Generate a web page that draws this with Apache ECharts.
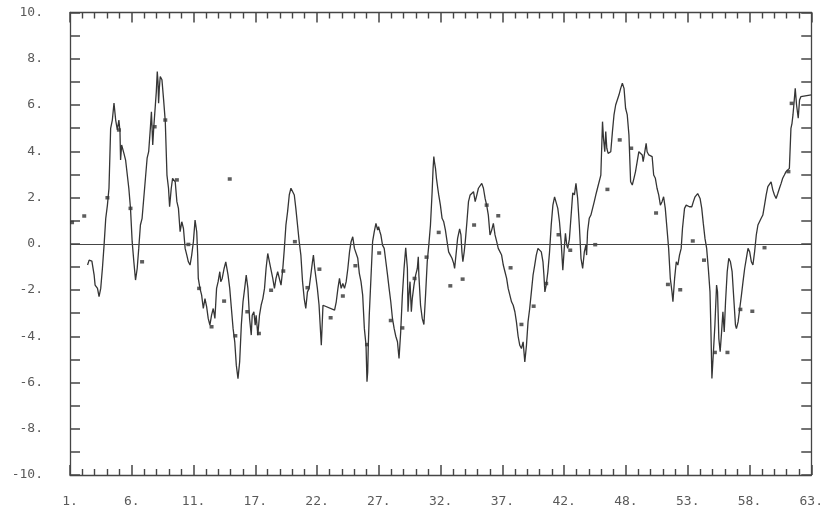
<!DOCTYPE html>
<html>
<head>
<meta charset="utf-8">
<script src="https://cdn.jsdelivr.net/npm/echarts@6/dist/echarts.min.js"></script>
<style>
  html, body { margin: 0; padding: 0; background: #ffffff; }
  #chart { width: 826px; height: 510px; }
</style>
</head>
<body>
<div id="chart"></div>
<script>
// Continuous trace: [period, value]
const curve = [
  [2.47,-0.92],[2.60,-0.71],[2.83,-0.75],[3.02,-1.36],[3.10,-1.79],[3.30,-1.93],[3.43,-2.29],[3.57,-1.93],
  [3.71,-1.07],[3.85,-0.06],[3.99,1.10],[4.13,1.67],[4.26,2.40],[4.40,4.99],[4.54,5.35],[4.68,6.08],
  [4.82,5.35],[4.96,4.92],[5.09,5.35],[5.18,4.85],[5.23,3.62],[5.32,4.27],[5.51,3.91],[5.65,3.62],
  [5.79,3.55],[5.92,2.40],[6.06,1.53],[6.20,0.09],[6.34,-0.78],[6.48,-1.57],[6.62,-1.07],[6.75,-0.20],
  [6.89,0.81],[7.03,1.10],[7.17,1.10],[7.31,2.83],[7.45,3.70],[7.58,3.98],[7.72,4.99],[7.81,5.71],
  [7.92,4.27],[8.00,4.99],[8.14,6.00],[8.22,6.58],[8.30,7.45],[8.36,7.01],[8.41,6.08],[8.47,6.72],
  [8.55,7.23],[8.69,7.09],[8.83,6.22],[8.97,5.28],[9.11,2.97],[9.24,2.40],[9.33,1.60],[9.47,2.40],
  [9.58,2.83],[9.80,2.68],[9.94,1.82],[10.07,1.53],[10.21,0.52],[10.35,0.95],[10.49,0.66],[10.63,-0.20],
  [10.77,-0.49],[10.90,-0.78],[11.04,-0.92],[11.18,-0.49],[11.32,0.09],[11.46,1.02],[11.60,0.52],[11.68,-0.49],
  [11.73,-1.50],[11.87,-1.93],[12.01,-2.22],[12.15,-2.80],[12.29,-2.37],[12.43,-2.73],[12.56,-3.23],[12.70,-3.52],
  [12.84,-3.09],[12.98,-2.80],[13.12,-3.23],[13.26,-1.93],[13.39,-1.64],[13.53,-1.21],[13.61,-1.64],[13.73,-1.50],
  [13.89,-1.07],[14.03,-0.78],[14.22,-1.36],[14.36,-1.93],[14.50,-2.80],[14.64,-3.66],[14.78,-4.24],[14.91,-5.25],
  [15.05,-5.83],[15.19,-5.11],[15.33,-3.52],[15.47,-2.51],[15.61,-1.93],[15.74,-1.36],[15.88,-1.93],[16.02,-3.23],
  [16.16,-3.95],[16.24,-3.09],[16.38,-2.94],[16.49,-3.52],[16.57,-3.09],[16.71,-3.95],[16.85,-3.09],[16.99,-2.65],
  [17.13,-2.37],[17.27,-1.93],[17.40,-1.07],[17.54,-0.42],[17.68,-0.78],[17.82,-1.14],[17.96,-1.50],[18.10,-1.93],
  [18.23,-1.50],[18.37,-1.21],[18.51,-1.28],[18.65,-1.79],[18.79,-1.14],[18.93,-0.20],[19.06,0.81],[19.20,1.39],
  [19.34,2.11],[19.48,2.40],[19.62,2.32],[19.76,2.11],[19.89,1.53],[20.03,0.81],[20.17,0.09],[20.31,-0.49],
  [20.45,-1.64],[20.59,-2.37],[20.72,-2.80],[20.86,-2.08],[21.00,-1.93],[21.14,-1.36],[21.28,-0.78],[21.36,-0.49],
  [21.47,-1.07],[21.69,-1.93],[21.83,-2.65],[22.02,-4.39],[22.16,-2.66],[22.30,-2.73],[23.13,-2.87],[23.27,-2.51],
  [23.41,-1.93],[23.54,-1.50],[23.68,-1.93],[23.82,-1.72],[23.96,-1.93],[24.10,-1.64],[24.24,-1.07],[24.38,-0.35],
  [24.51,0.09],[24.65,0.30],[24.79,-0.20],[24.93,-0.27],[25.07,-0.63],[25.20,-1.28],[25.34,-1.64],[25.48,-2.22],
  [25.62,-3.66],[25.76,-4.39],[25.84,-5.97],[25.90,-5.54],[25.95,-4.39],[26.03,-3.09],[26.17,-1.50],[26.31,0.09],
  [26.45,0.52],[26.59,0.88],[26.73,0.59],[26.81,0.74],[26.92,0.52],[27.00,0.38],[27.14,-0.06],[27.28,-0.20],
  [27.42,-0.78],[27.56,-1.36],[27.69,-1.93],[27.83,-2.51],[27.97,-3.23],[28.11,-3.66],[28.25,-4.00],[28.39,-4.24],
  [28.52,-4.96],[28.66,-3.81],[28.80,-2.22],[28.94,-1.07],[29.08,-0.17],[29.22,-1.07],[29.27,-2.94],[29.35,-2.22],
  [29.44,-1.64],[29.55,-2.94],[29.63,-2.37],[29.77,-1.79],[29.91,-1.36],[30.05,-1.07],[30.13,-0.56],[30.18,-1.36],
  [30.32,-2.66],[30.46,-3.23],[30.60,-3.49],[30.74,-2.22],[30.88,-0.78],[31.01,-0.06],[31.15,0.81],[31.29,2.25],
  [31.37,3.26],[31.43,3.77],[31.48,3.55],[31.57,3.26],[31.65,2.83],[31.76,2.40],[31.84,2.11],[31.98,1.67],
  [32.12,1.10],[32.26,0.95],[32.40,0.59],[32.54,0.09],[32.67,-0.35],[32.81,-0.49],[32.95,-0.63],[33.09,-0.85],
  [33.17,-1.07],[33.31,-0.35],[33.42,0.23],[33.59,0.64],[33.70,0.38],[33.78,-0.35],[33.86,-0.78],[33.97,-0.35],
  [34.06,0.09],[34.20,0.95],[34.33,1.82],[34.47,2.11],[34.61,2.11],[34.75,2.25],[34.89,1.82],[35.03,2.11],
  [35.16,2.40],[35.30,2.40],[35.44,2.61],[35.58,2.40],[35.72,1.96],[35.85,1.67],[35.99,1.24],[36.13,0.38],
  [36.27,0.59],[36.41,0.88],[36.55,0.38],[36.69,0.09],[36.82,-0.20],[36.96,-0.27],[37.10,-0.49],[37.24,-0.92],
  [37.38,-1.21],[37.52,-1.50],[37.65,-1.93],[37.79,-2.22],[37.93,-2.51],[38.07,-2.66],[38.21,-2.94],[38.34,-3.38],
  [38.48,-4.00],[38.62,-4.39],[38.76,-4.53],[38.90,-4.24],[39.04,-5.11],[39.18,-4.39],[39.31,-3.38],[39.45,-2.80],
  [39.59,-2.08],[39.73,-1.36],[39.87,-0.92],[40.00,-0.49],[40.14,-0.20],[40.28,-0.20],[40.42,-0.35],[40.56,-0.78],
  [40.64,-1.36],[40.72,-2.08],[40.83,-1.79],[40.97,-1.21],[41.11,-0.35],[41.25,0.81],[41.39,1.67],[41.53,2.03],
  [41.66,1.96],[41.80,1.53],[41.94,0.95],[42.08,0.09],[42.22,-1.14],[42.36,-0.06],[42.44,0.45],[42.55,-0.06],
  [42.63,-0.20],[42.77,0.20],[42.91,1.20],[43.05,2.20],[43.19,2.11],[43.32,2.61],[43.46,1.96],[43.60,0.81],
  [43.74,-0.63],[43.88,-1.07],[44.02,-0.35],[44.15,-0.06],[44.21,-0.49],[44.29,0.52],[44.43,1.10],[44.57,1.24],
  [44.71,1.24],[44.85,1.82],[44.98,2.11],[45.12,2.40],[45.26,2.40],[45.40,2.97],[45.54,5.28],[45.62,4.56],
  [45.73,3.98],[45.81,4.85],[45.90,4.13],[46.01,3.91],[46.15,3.84],[46.23,3.98],[46.37,4.85],[46.50,5.57],
  [46.64,6.00],[46.78,6.00],[46.92,6.44],[47.06,6.72],[47.20,6.94],[47.34,6.72],[47.47,5.86],[47.61,5.57],
  [47.75,4.70],[47.89,2.68],[48.03,2.54],[48.17,2.83],[48.30,3.12],[48.44,3.55],[48.58,3.98],[48.72,3.98],
  [48.86,3.84],[48.94,3.55],[49.08,3.98],[49.19,4.34],[49.27,3.98],[49.41,3.84],[49.55,3.84],[49.69,3.77],
  [49.82,2.97],[49.96,2.83],[50.10,2.40],[50.24,2.11],[50.38,1.67],[50.52,1.82],[50.65,2.03],[50.79,1.53],
  [50.93,0.67],[51.07,-0.20],[51.21,-1.50],[51.35,-2.08],[51.43,-2.51],[51.57,-1.50],[51.71,-0.78],[51.84,-0.92],
  [51.98,-0.49],[52.12,-0.20],[52.23,0.67],[52.40,1.53],[52.54,1.67],[52.67,1.60],[52.81,1.60],[53.01,1.60],
  [53.14,1.82],[53.28,2.03],[53.50,2.17],[53.70,1.96],[53.84,1.53],[53.97,0.88],[54.11,0.23],[54.25,-0.20],
  [54.39,-1.07],[54.53,-2.08],[54.61,-3.81],[54.69,-5.83],[54.80,-4.82],[54.94,-3.52],[55.08,-1.79],[55.16,-2.08],
  [55.27,-4.10],[55.38,-4.67],[55.50,-3.81],[55.61,-2.94],[55.72,-3.81],[55.83,-2.51],[55.97,-1.21],[56.10,-0.63],
  [56.24,-0.78],[56.38,-1.21],[56.52,-2.37],[56.66,-3.52],[56.74,-3.67],[56.88,-3.38],[57.02,-2.80],[57.16,-2.22],
  [57.29,-1.65],[57.43,-1.07],[57.57,-0.63],[57.71,-0.20],[57.85,-0.35],[57.99,-0.78],[58.12,-0.92],[58.26,-0.35],
  [58.40,0.37],[58.54,0.81],[58.68,0.88],[58.81,1.10],[58.95,1.24],[59.09,1.67],[59.23,2.11],[59.37,2.47],
  [59.51,2.54],[59.64,2.68],[59.78,2.33],[59.92,2.11],[60.06,1.96],[60.20,2.17],[60.34,2.40],[60.48,2.61],
  [60.61,2.83],[60.75,2.97],[60.89,3.12],[61.03,3.12],[61.17,3.26],[61.30,4.99],[61.39,5.21],[61.47,5.57],
  [61.58,6.22],[61.66,6.72],[61.77,6.00],[61.91,5.43],[62.02,6.22],[62.13,6.36],[63.00,6.44]
];

// Discrete observations: [period, value]
const points = [
  [1.17,0.92],[2.19,1.20],[4.13,1.99],[5.09,4.92],[6.06,1.53],[7.03,-0.78],[8.08,5.06],[8.97,5.35],
  [9.94,2.76],[10.90,-0.03],[11.80,-1.93],[12.84,-3.59],[13.89,-2.48],[14.36,2.80],[14.83,-3.98],[15.83,-2.94],
  [16.80,-3.88],[17.82,-2.01],[18.84,-1.18],[19.81,0.09],[20.86,-1.90],[21.86,-1.10],[22.80,-3.20],[23.82,-2.26],
  [24.87,-0.95],[25.84,-4.36],[26.86,-0.40],[27.83,-3.32],[28.80,-3.64],[29.82,-1.50],[30.82,-0.58],[31.84,0.49],
  [32.81,-1.82],[33.84,-1.53],[34.80,0.81],[35.85,1.67],[36.82,1.21],[37.85,-1.04],[38.76,-3.49],[39.78,-2.70],
  [40.83,-1.72],[41.86,0.39],[42.84,-0.28],[44.93,-0.04],[45.95,2.35],[46.98,4.49],[47.94,4.13],[50.02,1.33],
  [51.01,-1.76],[52.04,-1.99],[53.09,0.12],[54.03,-0.71],[54.94,-4.70],[55.99,-4.70],[57.07,-2.84],[58.07,-2.92],
  [59.09,-0.17],[61.09,3.12],[61.36,6.07]
];

// Period axis runs 1..63, split into 12 equal major steps
const periodFirst = 1;
const periodLast = 63;
const periodSteps = 12;
const valueMin = -10;
const valueMax = 10;

const toStep = p => (p - periodFirst) * periodSteps / (periodLast - periodFirst);
const stepLabel = s => Math.round(periodFirst + s * (periodLast - periodFirst) / periodSteps) + '.';

const ink = '#353535';
const frame = '#454545';
const textColor = '#5a5a5a';
const mono = '"DejaVu Sans Mono", "Liberation Mono", monospace';

function xAxisCfg(position, showLabels) {
  return {
    type: 'value', position: position,
    min: 0, max: periodSteps, interval: 1,
    axisLine: { show: true, onZero: false, lineStyle: { color: frame, width: 1.3 } },
    axisTick: { show: true, inside: true, length: 10, lineStyle: { color: frame, width: 1.5 } },
    minorTick: { show: true, splitNumber: 5, length: 6, lineStyle: { color: frame, width: 1.4 } },
    splitLine: { show: false }, minorSplitLine: { show: false },
    axisLabel: {
      show: showLabels, margin: 20, formatter: stepLabel,
      fontFamily: mono, fontSize: 13, color: textColor,
      showMinLabel: true, showMaxLabel: true
    }
  };
}

function yAxisCfg(position, showLabels) {
  return {
    type: 'value', position: position,
    min: valueMin, max: valueMax, interval: 1,
    axisLine: { show: true, onZero: false, lineStyle: { color: frame, width: 1.3 } },
    axisTick: { show: true, inside: true, length: 10, lineStyle: { color: frame, width: 1.5 } },
    splitLine: { show: false },
    axisLabel: {
      show: showLabels, margin: 27,
      formatter: v => (Math.round(v) % 2 === 0 ? Math.round(v) + '.' : ''),
      fontFamily: mono, fontSize: 13, color: textColor,
      showMinLabel: true, showMaxLabel: true
    }
  };
}

const chart = echarts.init(document.getElementById('chart'), null, { renderer: 'canvas' });
chart.setOption({
  backgroundColor: '#ffffff',
  animation: false,
  grid: { left: 70, right: 9, top: 12.5, bottom: 35 },
  xAxis: [xAxisCfg('bottom', true), xAxisCfg('top', false)],
  yAxis: [yAxisCfg('left', true), yAxisCfg('right', false)],
  series: [
    {
      type: 'line',
      xAxisIndex: 0, yAxisIndex: 0,
      data: curve.map(d => [toStep(d[0]), d[1]]),
      showSymbol: false,
      lineStyle: { color: ink, width: 1.3 },
      markLine: {
        silent: true, symbol: ['none', 'none'],
        label: { show: false },
        lineStyle: { color: frame, width: 1.2, type: 'solid' },
        data: [{ yAxis: 0 }]
      }
    },
    {
      type: 'scatter',
      xAxisIndex: 0, yAxisIndex: 0,
      data: points.map(d => [toStep(d[0]), d[1]]),
      symbol: 'rect', symbolSize: [4, 3.5],
      itemStyle: { color: ink }
    }
  ]
});
</script>
</body>
</html>
